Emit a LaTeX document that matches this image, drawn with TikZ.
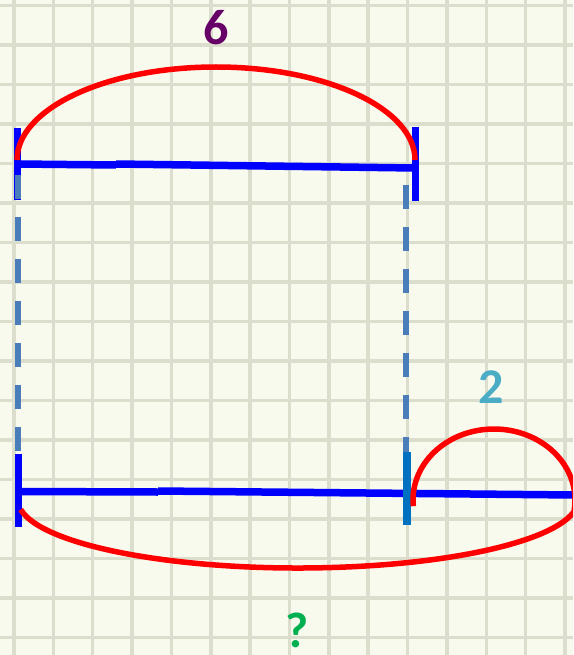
\documentclass[tikz,border=0pt]{standalone}
\usepackage{fontspec}
\setmainfont{Carlito}
\definecolor{paper}{RGB}{249,250,238}
\definecolor{gridc}{RGB}{220,222,205}
\definecolor{segblue}{RGB}{0,0,255}
\definecolor{midblue}{RGB}{0,112,192}
\definecolor{dashblue}{RGB}{74,126,187}
\definecolor{arcred}{RGB}{255,0,0}
\definecolor{sixc}{RGB}{102,0,102}
\definecolor{twoc}{RGB}{75,172,198}
\definecolor{qc}{RGB}{0,176,80}
\tikzset{
  gridline/.style={gridc, line width=3.5pt},
  seg/.style={segblue, line width=7.5pt},
  tickbar/.style={segblue, line width=7pt},
  midtick/.style={midblue, line width=7.5pt},
  guide/.style={dashblue, line width=6pt, dash pattern=on 24pt off 18pt},
  arcline/.style={arcred, line width=5.5pt},
  lbl/.style={inner sep=0pt, anchor=base, font=\bfseries\fontsize{50}{60}\selectfont}
}
\begin{document}
\begin{tikzpicture}[x=1pt,y=-1pt]
\fill[paper] (0,0) rectangle (573,655);
\useasboundingbox (0,0) rectangle (573,655);
\begin{scope}
\clip (0,0) rectangle (573,655);
\foreach \i in {0,...,14} \draw[gridline] ({14+39.36*\i},0) -- ({14+39.36*\i},655);
\foreach \j in {0,...,16} \draw[gridline] (0,{5.5+39.5*\j}) -- (573,{5.5+39.5*\j});

% named points
\coordinate (tl) at (17,164);
\coordinate (tm1) at (116,165);
\coordinate (tm2) at (116,164);
\coordinate (tr) at (415,168);
\coordinate (tlt) at (17,128);
\coordinate (tlb) at (17,200);
\coordinate (trt) at (415,127);
\coordinate (trb) at (415,201);
\coordinate (bl) at (18,491.5);
\coordinate (bm1) at (158,492);
\coordinate (bm2) at (158,491);
\coordinate (br) at (575,495);
\coordinate (blt) at (18,454);
\coordinate (blb) at (18,527);
\coordinate (bmt) at (407,452);
\coordinate (bmb) at (407,525);
\coordinate (gl1) at (17.5,175);
\coordinate (gl2) at (17.5,454);
\coordinate (gr1) at (406,185);
\coordinate (gr2) at (406,452);
\coordinate (ctop) at (216,160);
\coordinate (csmall) at (494,500);
\coordinate (cbig) at (298,500);

% blue segments
\draw[seg] (tl) -- (tm1);
\draw[seg] (tm2) -- (tr);
\draw[seg] (bl) -- (bm1);
\draw[seg] (bm2) -- (br);
% ticks
\draw[tickbar] (tlt) -- (tlb);
\draw[tickbar] (trt) -- (trb);
\draw[tickbar] (blt) -- (blb);
\draw[midtick] (bmt) -- (bmb);
% dashed guides
\draw[guide] (gl1) -- (gl2);
\draw[guide] (gr1) -- (gr2);
% arcs
\draw[arcline] (ctop) ++(-199,0) arc[start angle=180, end angle=0, x radius=199pt, y radius=93pt];
\draw[arcline] (csmall) ++({81*cos(185)},{-71*sin(185)}) arc[start angle=185, end angle=-8, x radius=81pt, y radius=71pt];
\draw[arcline] (cbig) ++({280*cos(188)},{-68*sin(188)}) arc[start angle=188, end angle=360, x radius=280pt, y radius=68pt];
\end{scope}

% labels
\node[lbl, text=sixc] (six) at (216.5,45) {6};
\node[lbl, text=twoc] (two) at (491.5,403) {2};
\node[lbl, text=qc] (q) at (297.5,647) {?};
\end{tikzpicture}
\end{document}
